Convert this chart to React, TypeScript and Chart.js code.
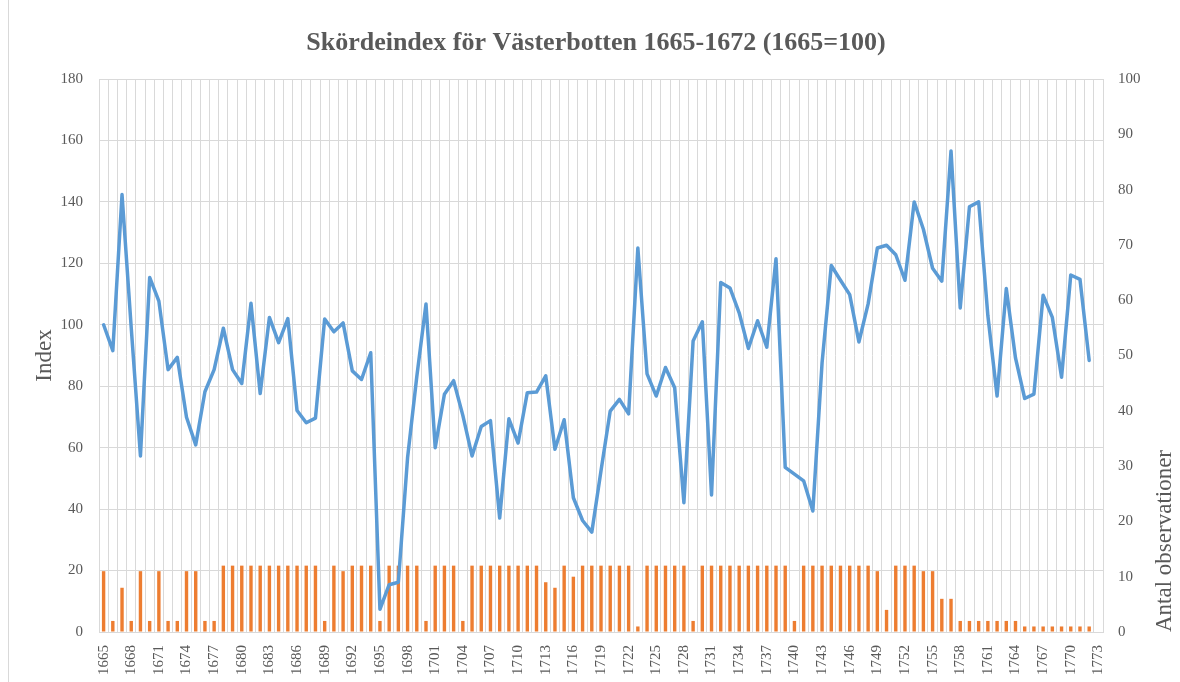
import React, { useEffect, useRef } from "react";
import { Chart, registerables } from "chart.js";

Chart.register(...registerables);

const years = [
  "1665", "1666", "1667", "1668", "1669", "1670", "1671", "1672", "1673", "1674",
  "1675", "1676", "1677", "1678", "1679", "1680", "1681", "1682", "1683", "1684",
  "1685", "1686", "1687", "1688", "1689", "1690", "1691", "1692", "1693", "1694",
  "1695", "1696", "1697", "1698", "1699", "1700", "1701", "1702", "1703", "1704",
  "1705", "1706", "1707", "1708", "1709", "1710", "1711", "1712", "1713", "1714",
  "1715", "1716", "1717", "1718", "1719", "1720", "1721", "1722", "1723", "1724",
  "1725", "1726", "1727", "1728", "1729", "1730", "1731", "1732", "1733", "1734",
  "1735", "1736", "1737", "1738", "1739", "1740", "1741", "1742", "1743", "1744",
  "1745", "1746", "1747", "1748", "1749", "1750", "1751", "1752", "1753", "1754",
  "1755", "1756", "1757", "1758", "1759", "1760", "1761", "1762", "1763", "1764",
  "1765", "1766", "1767", "1768", "1769", "1770", "1771", "1772", "1773",
];

// Skördeindex (left axis)
const indexValues: (number | null)[] = [
  100, 91.6, 142.4, 99, 57.3, 115.4, 107.7, 85.4, 89.4, 69.9,
  60.9, 78.2, 85.4, 98.9, 85.4, 80.9, 107.0, 77.6, 102.4, 94.2,
  102.0, 72.1, 68.1, 69.6, 101.9, 97.7, 100.6, 85.0, 82.2, 90.9,
  7.4, 15.4, 16.2, 56.7, 83.1, 106.8, 60.0, 77.4, 81.8, 70.5,
  57.3, 66.9, 68.8, 37.1, 69.4, 61.5, 77.9, 78.1, 83.4, 59.5,
  69.1, 43.7, 36.3, 32.5, 52.5, 71.9, 75.7, 71.0, 125.0, 84.0,
  76.8, 86.1, 79.5, 42.1, 94.7, 101.0, 44.6, 113.8, 112.0, 103.9,
  92.3, 101.3, 92.7, 121.5, 53.6, 51.4, 49.2, 39.4, 87.6, 119.3,
  114.5, 109.8, 94.4, 106.8, 125.0, 125.9, 122.8, 114.5, 140.0, 131.1,
  118.4, 114.2, 156.6, 105.5, 138.4, 140.0, 103.0, 76.8, 111.8, 89.2,
  76.0, 77.4, 109.6, 102.4, 82.9, 116.2, 114.8, 88.4, null,
];

// Antal observationer (right axis)
const observations: (number | null)[] = [
  11, 2, 8, 2, 11, 2, 11, 2, 2, 11,
  11, 2, 2, 12, 12, 12, 12, 12, 12, 12,
  12, 12, 12, 12, 2, 12, 11, 12, 12, 12,
  2, 12, 12, 12, 12, 2, 12, 12, 12, 2,
  12, 12, 12, 12, 12, 12, 12, 12, 9, 8,
  12, 10, 12, 12, 12, 12, 12, 12, 1, 12,
  12, 12, 12, 12, 2, 12, 12, 12, 12, 12,
  12, 12, 12, 12, 12, 2, 12, 12, 12, 12,
  12, 12, 12, 12, 11, 4, 12, 12, 12, 11,
  11, 6, 6, 2, 2, 2, 2, 2, 2, 2,
  1, 1, 1, 1, 1, 1, 1, 1, null,
];

const leftTickStep = 20;
const rightTickStep = 10;
const titleText = "Skördeindex för Västerbotten 1665-1672 (1665=100)";
const leftAxisTitle = "Index";
const rightAxisTitle = "Antal observationer";

const FONT = "'Liberation Serif', 'Times New Roman', serif";
const GREY = "#595959";
const GRID = "#d9d9d9";

const textPlugin = {
  id: "textPlugin",
  afterDraw(chart: any) {
    const ctx = chart.ctx;
    const { top, bottom } = chart.chartArea;

    ctx.save();
    ctx.fillStyle = GREY;
    ctx.font = `bold 26px ${FONT}`;
    ctx.textBaseline = "middle";
    ctx.textAlign = "center";
    ctx.fillText(titleText, 596, 43);
    ctx.restore();

    ctx.save();
    ctx.fillStyle = GREY;
    ctx.font = `23px ${FONT}`;
    ctx.textBaseline = "middle";
    ctx.translate(45, (top + bottom) / 2);
    ctx.rotate(-Math.PI / 2);
    ctx.textAlign = "center";
    ctx.fillText(leftAxisTitle, 0, 0);
    ctx.restore();

    ctx.save();
    ctx.fillStyle = GREY;
    ctx.font = `23px ${FONT}`;
    ctx.textBaseline = "middle";
    ctx.translate(1165, bottom);
    ctx.rotate(-Math.PI / 2);
    ctx.textAlign = "left";
    ctx.fillText(rightAxisTitle, 0, 0);
    ctx.restore();
  },
};

export default function App() {
  const canvasRef = useRef<HTMLCanvasElement | null>(null);

  useEffect(() => {
    if (!canvasRef.current) return;
    const chart = new Chart(canvasRef.current, {
      type: "bar",
      data: {
        labels: years,
        datasets: [
          {
            type: "line",
            label: leftAxisTitle,
            data: indexValues,
            yAxisID: "y",
            borderColor: "#5B9BD5",
            backgroundColor: "#5B9BD5",
            borderWidth: 3.5,
            pointRadius: 0,
            tension: 0,
            borderJoinStyle: "round",
            borderCapStyle: "round",
            order: 0,
          } as any,
          {
            type: "bar",
            label: rightAxisTitle,
            data: observations,
            yAxisID: "y1",
            backgroundColor: "#ED7D31",
            barPercentage: 0.37,
            categoryPercentage: 1,
            order: 1,
          },
        ],
      },
      options: {
        responsive: false,
        animation: false,
        layout: { padding: { top: 79, left: 0, right: 0, bottom: 0 } },
        plugins: {
          legend: { display: false },
          tooltip: { enabled: false },
          title: { display: false },
        },
        scales: {
          x: {
            offset: true,
            grid: { color: GRID, offset: true, drawTicks: false },
            border: { color: GRID },
            ticks: {
              autoSkip: false,
              minRotation: 90,
              maxRotation: 90,
              padding: 13,
              color: GREY,
              font: { family: FONT, size: 15 },
              callback: (_v: any, i: number) => (i % 3 === 0 ? years[i] : ""),
            },
            afterFit: (s: any) => {
              s.height = 50;
            },
          },
          y: {
            position: "left",
            min: 0,
            max: 180,
            ticks: {
              stepSize: leftTickStep,
              padding: 16,
              color: GREY,
              font: { family: FONT, size: 15 },
            },
            grid: { color: GRID, drawTicks: false },
            border: { display: false },
            afterFit: (s: any) => {
              s.width = 99;
            },
          },
          y1: {
            position: "right",
            min: 0,
            max: 100,
            ticks: {
              stepSize: rightTickStep,
              padding: 15,
              color: GREY,
              font: { family: FONT, size: 15 },
            },
            grid: { drawOnChartArea: false, drawTicks: false },
            border: { display: false },
            afterFit: (s: any) => {
              s.width = 77;
            },
          },
        },
      } as any,
      plugins: [textPlugin],
    });
    return () => chart.destroy();
  }, []);

  return (
    <div
      style={{
        position: "absolute",
        left: 0,
        top: 0,
        width: 1180,
        height: 682,
        background: "#ffffff",
      }}
    >
      <div
        style={{
          position: "absolute",
          left: 8,
          top: 0,
          width: 1,
          height: 682,
          background: GRID,
        }}
      />
      <canvas
        ref={canvasRef}
        width={1180}
        height={682}
        style={{ position: "absolute", left: 0, top: 0, display: "block" }}
      />
    </div>
  );
}
